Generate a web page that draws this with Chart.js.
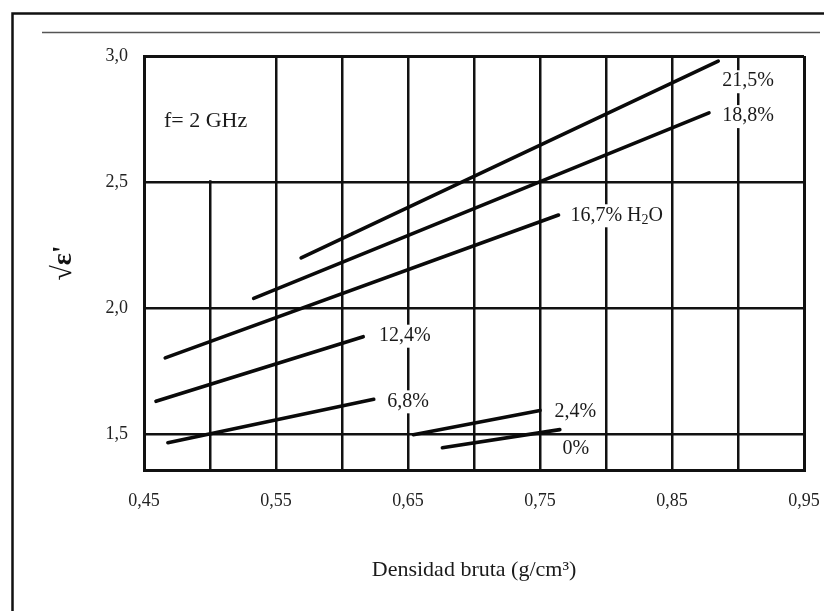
<!DOCTYPE html>
<html>
<head>
<meta charset="utf-8">
<script src="https://cdn.jsdelivr.net/npm/chart.js@4.4.1/dist/chart.umd.min.js"></script>
<style>
  html, body { margin: 0; padding: 0; background: #ffffff; }
  #wrap { width: 824px; height: 611px; }
</style>
</head>
<body>
<div id="wrap"><canvas id="c" width="824" height="611"></canvas></div>
<script>
// ---- data (bulk density vs sqrt(eps'), f = 2 GHz) ----
const moistureLabels = ['21,5%', '18,8%', '16,7%', '12,4%', '6,8%', '2,4%', '0%'];
const densityStart   = [0.569, 0.533, 0.466, 0.459, 0.468, 0.654, 0.676];
const densityEnd     = [0.885, 0.878, 0.764, 0.616, 0.624, 0.750, 0.765];
const sqrtEpsStart   = [2.200, 2.040, 1.804, 1.632, 1.468, 1.500, 1.448];
const sqrtEpsEnd     = [2.980, 2.775, 2.370, 1.888, 1.640, 1.596, 1.520];

const xTicks      = [0.45, 0.50, 0.55, 0.60, 0.65, 0.70, 0.75, 0.80, 0.85, 0.90, 0.95];
const xTickLabels = ['0,45', '', '0,55', '', '0,65', '', '0,75', '', '0,85', '', '0,95'];
const yTicks      = [1.5, 2.0, 2.5, 3.0];
const yTickLabels = ['1,5', '2,0', '2,5', '3,0'];

// in-plot labels (anchored in data units)
const noteTexts = ['21,5%', '18,8%', '16,7% H|2|O', '12,4%', '6,8%', '2,4%', '0%', 'f= 2 GHz'];
const noteX     = [0.9077, 0.9077, 0.773, 0.628, 0.650, 0.761, 0.767, 0.465];
const noteY     = [2.900, 2.762, 2.369, 1.892, 1.632, 1.592, 1.444, 2.742];
const noteAlign = ['center', 'center', 'left', 'left', 'center', 'left', 'left', 'left'];

const SERIF = "'Liberation Serif', 'Times New Roman', serif";

const datasets = moistureLabels.map((name, i) => ({
  label: name,
  data: [{ x: densityStart[i], y: sqrtEpsStart[i] }, { x: densityEnd[i], y: sqrtEpsEnd[i] }],
  showLine: true,
  borderColor: '#0a0a0a',
  borderWidth: 3.6,
  borderCapStyle: 'round',
  pointRadius: 0,
  pointHoverRadius: 0,
  fill: false
}));

const framePlugin = {
  id: 'frame',
  beforeDraw(chart) {
    const ctx = chart.ctx;
    ctx.save();
    ctx.fillStyle = '#ffffff';
    ctx.fillRect(0, 0, chart.width, chart.height);
    ctx.strokeStyle = '#111';
    ctx.lineWidth = 2.5;
    ctx.beginPath();
    ctx.moveTo(12.5, chart.height + 5);
    ctx.lineTo(12.5, 13.5);
    ctx.lineTo(chart.width + 5, 13.5);
    ctx.stroke();
    ctx.strokeStyle = '#555';
    ctx.lineWidth = 1.5;
    ctx.beginPath();
    ctx.moveTo(42, 32.5);
    ctx.lineTo(820, 32.5);
    ctx.stroke();
    ctx.restore();
  }
};

const notesPlugin = {
  id: 'notes',
  beforeDatasetsDraw(chart) {
    const { ctx } = chart;
    const xs = chart.scales.x, ys = chart.scales.y;
    ctx.save();
    // blank panel behind the frequency note (top-left cell)
    const bx0 = xs.getPixelForValue(0.4515), bx1 = xs.getPixelForValue(0.5485);
    const by0 = ys.getPixelForValue(2.992), by1 = ys.getPixelForValue(2.508);
    ctx.fillStyle = '#ffffff';
    ctx.fillRect(bx0, by0, bx1 - bx0, by1 - by0);

    noteTexts.forEach((txt, i) => {
      const size = (i === 7) ? 22 : 20;
      const parts = txt.split('|').map((t, k) => ({ t, sub: k === 1 }));
      let w = 0;
      parts.forEach(p => {
        ctx.font = (p.sub ? Math.round(size * 0.7) : size) + 'px ' + SERIF;
        p.w = ctx.measureText(p.t).width;
        w += p.w;
      });
      const px = xs.getPixelForValue(noteX[i]);
      const py = ys.getPixelForValue(noteY[i]);
      let left = noteAlign[i] === 'center' ? px - w / 2 : px;
      if (i !== 7) {
        ctx.fillStyle = '#ffffff';
        ctx.fillRect(left - 3, py - size / 2 - 1, w + 6, size + 3);
      }
      ctx.fillStyle = '#1a1a1a';
      ctx.textBaseline = 'middle';
      ctx.textAlign = 'left';
      parts.forEach(p => {
        ctx.font = (p.sub ? Math.round(size * 0.7) : size) + 'px ' + SERIF;
        ctx.fillText(p.t, left, p.sub ? py + 5 : py);
        left += p.w;
      });
    });
    ctx.restore();
  }
};

new Chart(document.getElementById('c'), {
  type: 'scatter',
  data: { datasets },
  plugins: [framePlugin, notesPlugin],
  options: {
    responsive: false,
    animation: false,
    events: [],
    layout: { padding: { left: 35, right: 0, top: 56, bottom: 28 } },
    plugins: { legend: { display: false }, tooltip: { enabled: false } },
    scales: {
      x: {
        type: 'linear',
        min: 0.45,
        max: 0.95,
        afterBuildTicks: s => { s.ticks = xTicks.map(v => ({ value: v })); },
        afterFit: s => { s.paddingRight = 20; },
        ticks: {
          autoSkip: false,
          maxRotation: 0,
          padding: 20,
          color: '#222',
          font: { family: SERIF, size: 18 },
          callback: (v) => { const k = xTicks.findIndex(t => Math.abs(t - v) < 1e-9); return k >= 0 ? xTickLabels[k] : ''; }
        },
        grid: {
          drawTicks: false,
          color: '#111',
          lineWidth: c => (c.tick && (c.tick.value === 0.95 || c.tick.value === 0.45)) ? 3 : 2.5
        },
        border: { display: true, color: '#111', width: 3 },
        title: {
          display: true,
          text: 'Densidad bruta (g/cm³)',
          color: '#1a1a1a',
          font: { family: SERIF, size: 22 },
          padding: { top: 25, bottom: 0 }
        }
      },
      y: {
        type: 'linear',
        min: 1.36,
        max: 3.0,
        afterBuildTicks: s => { s.ticks = yTicks.map(v => ({ value: v })); },
        ticks: {
          padding: 16,
          color: '#222',
          font: { family: SERIF, size: 18 },
          callback: (v) => { const k = yTicks.findIndex(t => Math.abs(t - v) < 1e-9); return k >= 0 ? yTickLabels[k] : ''; }
        },
        grid: {
          drawTicks: false,
          color: '#111',
          lineWidth: c => (c.tick && c.tick.value === 3.0) ? 3 : 2.5
        },
        border: { display: true, color: '#111', width: 3 },
        title: {
          display: true,
          text: "√ε'",
          color: '#111',
          font: { family: SERIF, size: 28, weight: 'bold' },
          padding: { top: 12, bottom: 9 }
        }
      }
    }
  }
});
</script>
</body>
</html>
